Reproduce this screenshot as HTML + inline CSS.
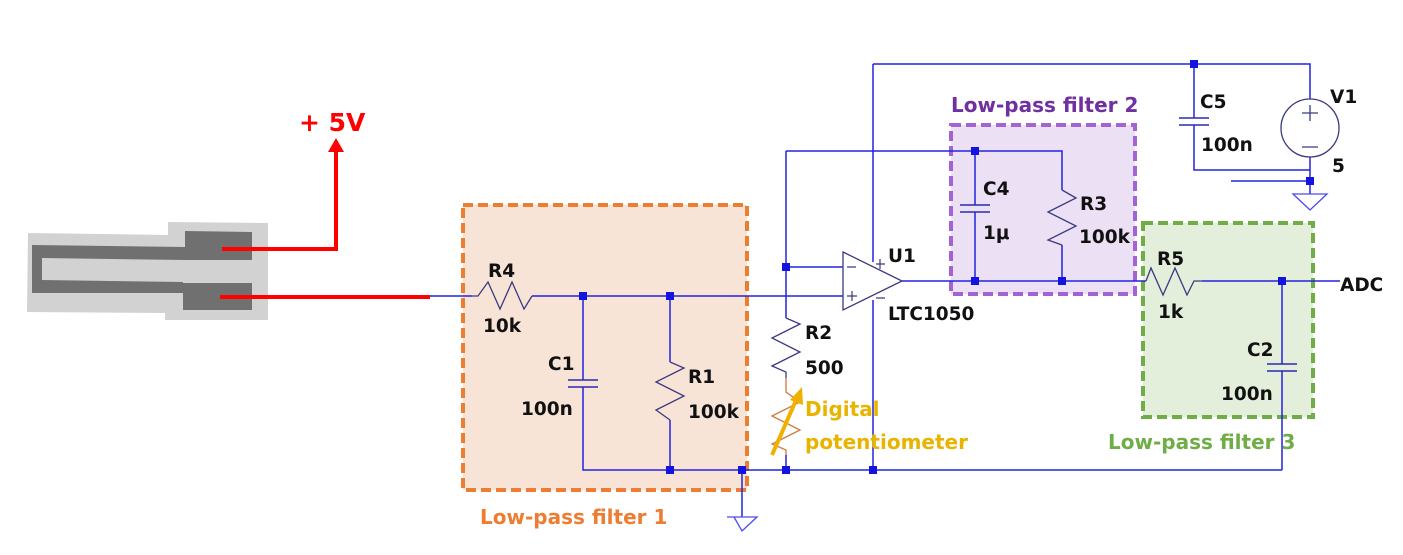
<!DOCTYPE html>
<html><head><meta charset="utf-8"><style>body{margin:0;background:#fff}svg{display:block}text{font-family:"DejaVu Sans","Liberation Sans",sans-serif;font-weight:bold}</style></head><body>
<svg width="1403" height="555" viewBox="0 0 1403 555" xmlns="http://www.w3.org/2000/svg">
<rect x="463" y="205" width="284" height="285" fill="#f8e4d6" stroke="#ed7d31" stroke-width="4" stroke-dasharray="10,5"/>
<rect x="951" y="125" width="184" height="169" fill="#ece0f4" stroke="#a463d4" stroke-width="4" stroke-dasharray="10,5"/>
<rect x="1143" y="223" width="170" height="194" fill="#e3efdb" stroke="#70ad47" stroke-width="4" stroke-dasharray="10,5"/>
<path d="M28 233 L168 235 L168 222 L268 223 L268 320 L165 320 L165 313 L27 312 Z" fill="#d2d2d2"/>
<path d="M32 245 L185 247 L185 231 L252 232 L252 260 L185 260 L42 258 L42 280 L183 282 L183 283 L252 283 L252 310 L183 310 L183 293 L32 293 Z" fill="#707070"/>
<g stroke="#f00" stroke-width="4" fill="none"><path d="M222 249 H336 V150"/><path d="M220 297 H430"/></g>
<path d="M328 152 L336 138 L344 152 Z" fill="#f00"/>
<text x="299" y="131" font-size="25" fill="#f00">+ 5V</text>
<g stroke="#2323e0" stroke-width="1.5" fill="none">
<path d="M430 296 H472 M532 296 H843"/>
<path d="M583 296 V380 M583 387 V470 H873 M873 470 H1282"/>
<path d="M670 296 V362 M670 420 V470"/>
<path d="M742 470 V517"/>
<path d="M786 267 H843 M786 151 V318 M786 151 H1062 V190 M1062 245 V281"/>
<path d="M975 151 V205 M975 212 V281"/>
<path d="M902 281 H1146 M1202 281 H1340"/>
<path d="M873 64 V262 M873 300 V470"/>
<path d="M873 64 H1310 V99 M1310 157 V194 M1194 64 V118 M1194 125 V170 H1310 M1231 181 H1310"/>
<path d="M1282 281 V364 M1282 371 V470"/>
<path d="M786 455 V470"/>
</g>
<g stroke="#2a2ab0" stroke-width="1.5">
<path d="M568 380 H598 M568 387 H598"/><path d="M960 205 H990 M960 212 H990"/>
<path d="M1179 118 H1209 M1179 125 H1209"/><path d="M1267 364 H1297 M1267 371 H1297"/>
</g>
<g stroke="#3a3a80" stroke-width="1.3" fill="none">
<path d="M472 296 L478 296 L488 282 L500 309 L512 282 L524 309 L532 296"/>
<path d="M670 362 L684 368 L656 382 L684 396 L656 410 L670 420"/>
<path d="M1062 190 L1076 198 L1048 212 L1076 226 L1048 240 L1062 245"/>
<path d="M786 318 L800 324 L772 338 L800 352 L772 366 L786 372 V378"/>
<path d="M1146 281 L1151 268 L1163 295 L1175 268 L1187 295 L1194 281 L1202 281"/>
<path d="M843 252 L902 281 L843 310 Z"/>
<path d="M734 517 H757 L742 531 Z M727 517 H757" stroke="#4a4af0"/>
<path d="M1293 194 H1327 L1310 210 Z" stroke="#4a4af0"/>
<circle cx="1310" cy="128" r="29"/>
<path d="M1302 113 H1318 M1310 105 V121 M1302 147 H1318"/>
<path d="M847 267 H856 M847 296 H857 M852 291 V301 M876 264 H885 M880 259 V269 M876 298 H885" stroke-width="1.2"/>
</g>
<path d="M786 378 V392 L800 402 L772 416 L800 430 L772 444 L786 450 V455" stroke="#d07a3a" stroke-width="1.3" fill="none"/>
<path d="M772 455 L797 398" stroke="#f0b000" stroke-width="4"/>
<path d="M790 400 L802 387 L803 405 Z" fill="#f0b000"/>
<g fill="#1414e0">
<rect x="579" y="292" width="8" height="8"/><rect x="666" y="292" width="8" height="8"/>
<rect x="666" y="466" width="8" height="8"/><rect x="738" y="466" width="8" height="8"/>
<rect x="782" y="466" width="8" height="8"/><rect x="869" y="466" width="8" height="8"/>
<rect x="782" y="263" width="8" height="8"/><rect x="971" y="147" width="8" height="8"/>
<rect x="971" y="277" width="8" height="8"/><rect x="1058" y="277" width="8" height="8"/>
<rect x="1278" y="277" width="8" height="8"/><rect x="1190" y="60" width="8" height="8"/>
<rect x="1306" y="177" width="8" height="8"/>
</g>
<g font-size="18.5" fill="#111">
<text x="488" y="277">R4</text><text x="483" y="332">10k</text>
<text x="548" y="370">C1</text><text x="521" y="415">100n</text>
<text x="688" y="383">R1</text><text x="688" y="418">100k</text>
<text x="805" y="339">R2</text><text x="805" y="374">500</text>
<text x="888" y="262">U1</text><text x="888" y="320">LTC1050</text>
<text x="983" y="195">C4</text><text x="983" y="239">1μ</text>
<text x="1080" y="210">R3</text><text x="1079" y="243">100k</text>
<text x="1200" y="108">C5</text><text x="1201" y="151">100n</text>
<text x="1330" y="103">V1</text><text x="1332" y="172">5</text>
<text x="1157" y="265">R5</text><text x="1158" y="318">1k</text>
<text x="1247" y="356">C2</text><text x="1221" y="400">100n</text>
<text x="1340" y="291">ADC</text>
</g>
<g font-size="20">
<text x="480" y="524" fill="#ed7d31">Low-pass filter 1</text>
<text x="951" y="112" fill="#7030a0">Low-pass filter 2</text>
<text x="1108" y="449" fill="#70ad47">Low-pass filter 3</text>
<text x="805" y="416" fill="#e8b400">Digital</text>
<text x="805" y="449" fill="#e8b400">potentiometer</text>
</g>
</svg>
</body></html>
